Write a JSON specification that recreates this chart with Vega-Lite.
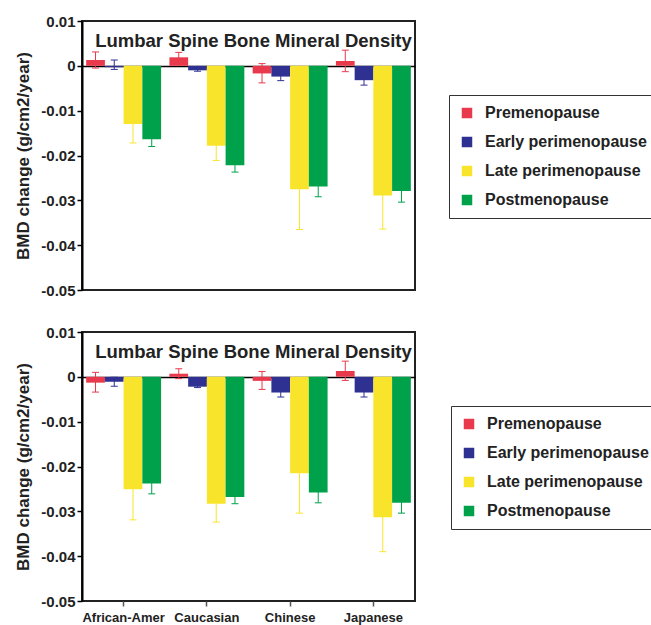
{
  "$schema": "https://vega.github.io/schema/vega-lite/v6.json",
  "padding": {"left": 13, "top": 13, "right": 0, "bottom": 0},
  "background": "white",
  "config": {
    "font": "Liberation Sans",
    "view": {"stroke": "#222", "strokeWidth": 2},
    "axisY": {
      "domainColor": "black", "domainWidth": 2, "tickColor": "black", "tickSize": 5, "tickWidth": 1.5,
      "labelFontSize": 15, "labelFontWeight": "bold", "labelColor": "#222", "labelPadding": 2,
      "labelFlush": false, "labelOverlap": false, "labelBound": false,
      "titleFontSize": 17, "titleFontWeight": "bold", "titleColor": "#222", "titlePadding": 8,
      "zindex": 1
    }
  },
  "datasets": {
    "top": [
      {"group": "African-Amer", "phase": "Premenopause", "v": 0.0013, "lo": -0.0005, "hi": 0.0031},
      {"group": "African-Amer", "phase": "Early perimenopause", "v": -0.0003, "lo": -0.0008, "hi": 0.0013},
      {"group": "African-Amer", "phase": "Late perimenopause", "v": -0.0130, "lo": -0.0172, "hi": -0.0088},
      {"group": "African-Amer", "phase": "Postmenopause", "v": -0.0164, "lo": -0.0180, "hi": -0.0148},
      {"group": "Caucasian", "phase": "Premenopause", "v": 0.0019, "lo": 0.0008, "hi": 0.0030},
      {"group": "Caucasian", "phase": "Early perimenopause", "v": -0.0010, "lo": -0.0012, "hi": -0.0008},
      {"group": "Caucasian", "phase": "Late perimenopause", "v": -0.0178, "lo": -0.0211, "hi": -0.0145},
      {"group": "Caucasian", "phase": "Postmenopause", "v": -0.0222, "lo": -0.0237, "hi": -0.0207},
      {"group": "Chinese", "phase": "Premenopause", "v": -0.0017, "lo": -0.0038, "hi": 0.0005},
      {"group": "Chinese", "phase": "Early perimenopause", "v": -0.0024, "lo": -0.0033, "hi": -0.0015},
      {"group": "Chinese", "phase": "Late perimenopause", "v": -0.0275, "lo": -0.0365, "hi": -0.0185},
      {"group": "Chinese", "phase": "Postmenopause", "v": -0.0269, "lo": -0.0292, "hi": -0.0246},
      {"group": "Japanese", "phase": "Premenopause", "v": 0.0011, "lo": -0.0013, "hi": 0.0035},
      {"group": "Japanese", "phase": "Early perimenopause", "v": -0.0032, "lo": -0.0043, "hi": -0.0021},
      {"group": "Japanese", "phase": "Late perimenopause", "v": -0.0289, "lo": -0.0364, "hi": -0.0214},
      {"group": "Japanese", "phase": "Postmenopause", "v": -0.0279, "lo": -0.0304, "hi": -0.0254}
    ],
    "bottom": [
      {"group": "African-Amer", "phase": "Premenopause", "v": -0.0013, "lo": -0.0034, "hi": 0.0010},
      {"group": "African-Amer", "phase": "Early perimenopause", "v": -0.0011, "lo": -0.0021, "hi": -0.0001},
      {"group": "African-Amer", "phase": "Late perimenopause", "v": -0.0251, "lo": -0.0319, "hi": -0.0183},
      {"group": "African-Amer", "phase": "Postmenopause", "v": -0.0238, "lo": -0.0261, "hi": -0.0215},
      {"group": "Caucasian", "phase": "Premenopause", "v": 0.0007, "lo": -0.0004, "hi": 0.0018},
      {"group": "Caucasian", "phase": "Early perimenopause", "v": -0.0022, "lo": -0.0024, "hi": -0.0020},
      {"group": "Caucasian", "phase": "Late perimenopause", "v": -0.0283, "lo": -0.0324, "hi": -0.0242},
      {"group": "Caucasian", "phase": "Postmenopause", "v": -0.0268, "lo": -0.0283, "hi": -0.0253},
      {"group": "Chinese", "phase": "Premenopause", "v": -0.0009, "lo": -0.0028, "hi": 0.0012},
      {"group": "Chinese", "phase": "Early perimenopause", "v": -0.0035, "lo": -0.0045, "hi": -0.0025},
      {"group": "Chinese", "phase": "Late perimenopause", "v": -0.0215, "lo": -0.0304, "hi": -0.0126},
      {"group": "Chinese", "phase": "Postmenopause", "v": -0.0258, "lo": -0.0281, "hi": -0.0235},
      {"group": "Japanese", "phase": "Premenopause", "v": 0.0013, "lo": -0.0008, "hi": 0.0035},
      {"group": "Japanese", "phase": "Early perimenopause", "v": -0.0035, "lo": -0.0045, "hi": -0.0025},
      {"group": "Japanese", "phase": "Late perimenopause", "v": -0.0313, "lo": -0.0390, "hi": -0.0236},
      {"group": "Japanese", "phase": "Postmenopause", "v": -0.0281, "lo": -0.0304, "hi": -0.0258}
    ]
  },
  "bounds": "flush",
  "spacing": 42,
  "resolve": {"scale": {"color": "independent"}, "legend": {"color": "independent"}},
  "vconcat": [
    {
      "width": 333, "height": 269,
      "data": {"name": "top"},
      "title": {"text": "Lumbar Spine Bone Mineral Density", "fontSize": 18.5, "fontWeight": "bold", "color": "#222", "anchor": "middle", "baseline": "alphabetic", "offset": -51, "dx": 5},
      "encoding": {
        "x": {"field": "group", "type": "nominal", "sort": ["African-Amer", "Caucasian", "Chinese", "Japanese"], "scale": {"paddingInner": 0.1, "paddingOuter": 0.05}, "axis": null},
        "xOffset": {"field": "phase", "type": "nominal", "sort": ["Premenopause", "Early perimenopause", "Late perimenopause", "Postmenopause"], "scale": {"paddingInner": 0, "paddingOuter": 0}},
        "color": {"field": "phase", "type": "nominal",
          "scale": {"domain": ["Premenopause", "Early perimenopause", "Late perimenopause", "Postmenopause"], "range": ["#e8394d", "#2e3192", "#f8e52b", "#00a14b"]},
          "legend": {"title": null, "orient": "none", "legendX": 367, "legendY": 74, "labelFontSize": 16, "labelFontWeight": "bold", "labelColor": "#222", "symbolType": "square", "symbolSize": 110, "symbolStrokeWidth": 0, "symbolOpacity": 1, "rowPadding": 13, "labelOffset": 10, "padding": 10, "strokeColor": "#333", "fillColor": "white", "labelLimit": 300}}
      },
      "layer": [
        {"mark": {"type": "rule", "strokeWidth": 1},
         "encoding": {"y": {"field": "lo", "type": "quantitative", "scale": {"domain": [-0.05, 0.01], "nice": false, "zero": false},
           "axis": {"title": "BMD change (g/cm2/year)", "values": [-0.05, -0.04, -0.03, -0.02, -0.01, 0, 0.01], "grid": true, "gridColor": "black", "gridWidth": 1.5, "gridOpacity": {"condition": {"test": "datum.value === 0", "value": 1}, "value": 0}, "labelExpr": "datum.value === 0 ? '0' : (datum.value < 0 ? '-' : '') + format(abs(datum.value), '.2f')"}},
           "y2": {"field": "hi"}}},
        {"mark": {"type": "tick", "size": 7, "thickness": 1, "opacity": 1}, "encoding": {"y": {"field": "lo", "type": "quantitative"}}},
        {"mark": {"type": "tick", "size": 7, "thickness": 1, "opacity": 1}, "encoding": {"y": {"field": "hi", "type": "quantitative"}}},
        {"mark": {"type": "bar"}, "encoding": {"y": {"field": "v", "type": "quantitative"}}}
      ]
    },
    {
      "width": 333, "height": 269,
      "data": {"name": "bottom"},
      "title": {"text": "Lumbar Spine Bone Mineral Density", "fontSize": 18.5, "fontWeight": "bold", "color": "#222", "anchor": "middle", "baseline": "alphabetic", "offset": -51, "dx": 5},
      "encoding": {
        "x": {"field": "group", "type": "nominal", "sort": ["African-Amer", "Caucasian", "Chinese", "Japanese"], "scale": {"paddingInner": 0.1, "paddingOuter": 0.05},
          "axis": {"title": null, "labelAngle": 0, "labelFontSize": 13, "labelFontWeight": "bold", "labelColor": "#222", "tickSize": 5, "tickColor": "#555", "tickWidth": 1.5, "domain": false, "labelPadding": 5}},
        "xOffset": {"field": "phase", "type": "nominal", "sort": ["Premenopause", "Early perimenopause", "Late perimenopause", "Postmenopause"], "scale": {"paddingInner": 0, "paddingOuter": 0}},
        "color": {"field": "phase", "type": "nominal",
          "scale": {"domain": ["Premenopause", "Early perimenopause", "Late perimenopause", "Postmenopause"], "range": ["#e8394d", "#2e3192", "#f8e52b", "#00a14b"]},
          "legend": {"title": null, "orient": "none", "legendX": 369, "legendY": 74, "labelFontSize": 16, "labelFontWeight": "bold", "labelColor": "#222", "symbolType": "square", "symbolSize": 110, "symbolStrokeWidth": 0, "symbolOpacity": 1, "rowPadding": 13, "labelOffset": 10, "padding": 10, "strokeColor": "#333", "fillColor": "white", "labelLimit": 300}}
      },
      "layer": [
        {"mark": {"type": "rule", "strokeWidth": 1},
         "encoding": {"y": {"field": "lo", "type": "quantitative", "scale": {"domain": [-0.05, 0.01], "nice": false, "zero": false},
           "axis": {"title": "BMD change (g/cm2/year)", "values": [-0.05, -0.04, -0.03, -0.02, -0.01, 0, 0.01], "grid": true, "gridColor": "black", "gridWidth": 1.5, "gridOpacity": {"condition": {"test": "datum.value === 0", "value": 1}, "value": 0}, "labelExpr": "datum.value === 0 ? '0' : (datum.value < 0 ? '-' : '') + format(abs(datum.value), '.2f')"}},
           "y2": {"field": "hi"}}},
        {"mark": {"type": "tick", "size": 7, "thickness": 1, "opacity": 1}, "encoding": {"y": {"field": "lo", "type": "quantitative"}}},
        {"mark": {"type": "tick", "size": 7, "thickness": 1, "opacity": 1}, "encoding": {"y": {"field": "hi", "type": "quantitative"}}},
        {"mark": {"type": "bar"}, "encoding": {"y": {"field": "v", "type": "quantitative"}}}
      ]
    }
  ]
}
